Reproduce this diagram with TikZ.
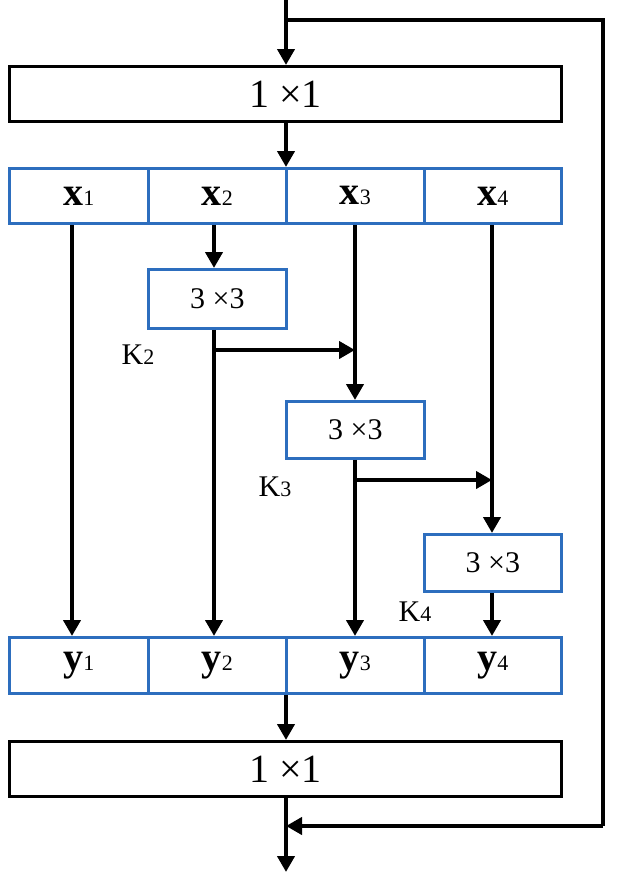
\documentclass[tikz,border=0pt]{standalone}
\usepackage{fontspec}
\setmainfont{Liberation Serif}
\usetikzlibrary{arrows.meta}
\definecolor{bl}{RGB}{45,110,190}
\begin{document}
\begin{tikzpicture}[x=1pt,y=-1pt,
  blk/.style={draw=black,line width=2.8pt,fill=white,inner sep=0pt},
  cell/.style={draw=bl,line width=2.8pt,fill=white,inner sep=0pt},
  ar/.style={line width=4pt,-{Triangle[length=16pt,width=17pt]}},
  ln/.style={line width=4pt}]
\useasboundingbox (0,0) rectangle (618,886);
\newcommand{\bx}[6]{\node[#1,minimum width=#4 pt,minimum height=#5 pt,anchor=north west] (#2) at #3 {#6};}
\newcommand{\bigf}{\fontsize{40}{40}\selectfont}
\newcommand{\subf}{\fontsize{22}{22}\selectfont\mdseries}
\bx{blk}{top}{(8,65)}{552}{55}{\bigf 1 ×1}
\bx{blk}{bot}{(8,740)}{552}{55}{\bigf 1 ×1}
\bx{cell}{x1}{(8,167)}{139}{55}{\bigf\bfseries x{\subf 1}}
\bx{cell}{x2}{(147,167)}{138}{55}{\bigf\bfseries x{\subf 2}}
\bx{cell}{x3}{(285,167)}{138}{55}{\bigf\bfseries x{\subf 3}}
\bx{cell}{x4}{(423,167)}{137}{55}{\bigf\bfseries x{\subf 4}}
\bx{cell}{y1}{(8,636)}{139}{56}{\bigf\bfseries y{\subf 1}}
\bx{cell}{y2}{(147,636)}{138}{56}{\bigf\bfseries y{\subf 2}}
\bx{cell}{y3}{(285,636)}{138}{56}{\bigf\bfseries y{\subf 3}}
\bx{cell}{y4}{(423,636)}{137}{56}{\bigf\bfseries y{\subf 4}}
\bx{cell}{k2}{(147,268)}{138}{59}{\fontsize{30}{30}\selectfont 3 ×3}
\bx{cell}{k3}{(285,400)}{138}{57}{\fontsize{30}{30}\selectfont 3 ×3}
\bx{cell}{k4}{(423,533)}{137}{57}{\fontsize{30}{30}\selectfont 3 ×3}
\node[font=\fontsize{30}{30}\selectfont] (l2) at (138,355) {K{\subf 2}};
\node[font=\fontsize{30}{30}\selectfont] (l3) at (275,487) {K{\subf 3}};
\node[font=\fontsize{30}{30}\selectfont] (l4) at (415,612) {K{\subf 4}};
\coordinate (in) at (286,0);
\coordinate (r1) at (286,20);
\coordinate (r2) at (603,20);
\coordinate (r3) at (603,826);
\coordinate (r4) at (286,826);
\coordinate (out) at (286,872);
\coordinate (b2) at (214,350);
\coordinate (b3) at (355,350);
\coordinate (b4) at (355,480);
\coordinate (b5) at (492,480);
\draw[ar] (in) -- (top.north -| in);
\draw[ln] (r1) -- (r2) -- (r3);
\draw[ar] (r3) -- (r4);
\draw[ar] (bot.south -| out) -- (out);
\draw[ar] (top.south -| in) -- (x2.north -| in);
\draw[ar] (x1.south -| 72,0) -- (y1.north -| 72,0);
\draw[ar] (x2.south -| 214,0) -- (k2.north -| 214,0);
\draw[ar] (k2.south -| 214,0) -- (y2.north -| 214,0);
\draw[ar] (b2) -- (b3);
\draw[ar] (x3.south -| 355,0) -- (k3.north -| 355,0);
\draw[ar] (k3.south -| 355,0) -- (y3.north -| 355,0);
\draw[ar] (b4) -- (b5);
\draw[ar] (x4.south -| 492,0) -- (k4.north -| 492,0);
\draw[ar] (k4.south -| 492,0) -- (y4.north -| 492,0);
\draw[ar] (y2.south -| in) -- (bot.north -| out);
\end{tikzpicture}
\end{document}
